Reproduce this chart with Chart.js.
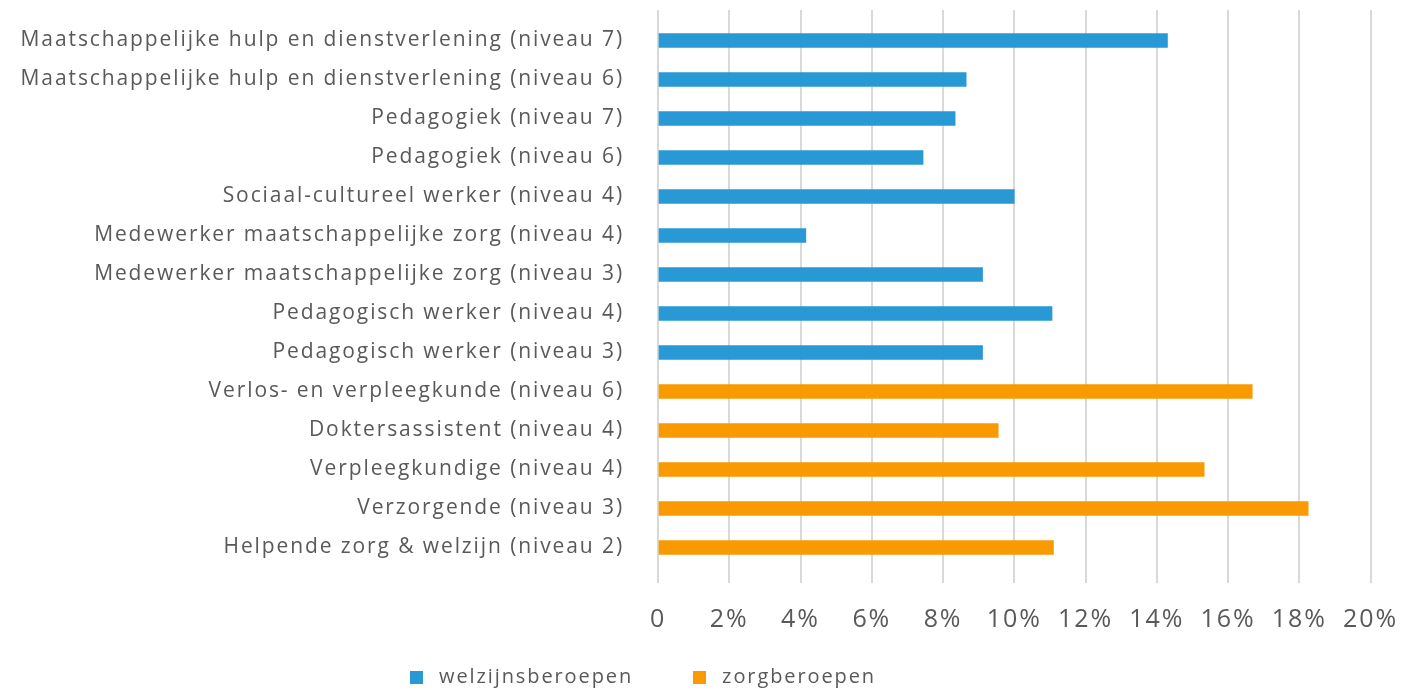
<!DOCTYPE html>
<html>
<head>
<meta charset="utf-8">
<script src="https://cdn.jsdelivr.net/npm/chart.js@4.4.1/dist/chart.umd.min.js"></script>
<style>
  html, body { margin: 0; padding: 0; background: #fff; }
  #wrap { width: 1420px; height: 690px; position: relative; }
</style>
</head>
<body>
<div id="wrap"><canvas id="chart"></canvas></div>
<script>
const categories = [
  'Maatschappelijke hulp en dienstverlening (niveau 7)',
  'Maatschappelijke hulp en dienstverlening (niveau 6)',
  'Pedagogiek (niveau 7)',
  'Pedagogiek (niveau 6)',
  'Sociaal-cultureel werker (niveau 4)',
  'Medewerker maatschappelijke zorg (niveau 4)',
  'Medewerker maatschappelijke zorg (niveau 3)',
  'Pedagogisch werker (niveau 4)',
  'Pedagogisch werker (niveau 3)',
  'Verlos- en verpleegkunde (niveau 6)',
  'Doktersassistent (niveau 4)',
  'Verpleegkundige (niveau 4)',
  'Verzorgende (niveau 3)',
  'Helpende zorg & welzijn (niveau 2)'
];

const welzijnValues = [14.3, 8.65, 8.34, 7.44, 10.0, 4.15, 9.11, 11.06, 9.11, null, null, null, null, null];
const zorgValues = [null, null, null, null, null, null, null, null, null, 16.68, 9.55, 15.33, 18.25, 11.1];

const seriesNames = ['welzijnsberoepen', 'zorgberoepen'];
const xTicks = [0, 2, 4, 6, 8, 10, 12, 14, 16, 18, 20];

const blue = '#2899d5';
const orange = '#f99a00';
const textColor = '#595959';
const gridColor = '#d9d9d9';
const fontFamily = '"Open Sans", Lato, sans-serif';

// small filled square used as legend marker (leaves a wider gap before the text)
function square(color) {
  const c = document.createElement('canvas');
  c.width = 13; c.height = 13;
  const g = c.getContext('2d');
  g.fillStyle = color;
  g.fillRect(0, 0, 13, 13);
  return c;
}

// the original font is much wider than anything installed, so space the letters out
const spacing = {
  id: 'spacing',
  beforeLayout(chart) { chart.ctx.letterSpacing = '1.9px'; },
  beforeDraw(chart) { chart.ctx.letterSpacing = '1.9px'; }
};

// grid lines poke out above the plot area in the original
const gridTopExtend = {
  id: 'gridTopExtend',
  beforeDatasetsDraw(chart) {
    const { ctx, chartArea, scales } = chart;
    ctx.save();
    ctx.strokeStyle = gridColor;
    ctx.lineWidth = 2;
    scales.x.ticks.forEach((t, i) => {
      const x = Math.round(scales.x.getPixelForTick(i));
      ctx.beginPath();
      ctx.moveTo(x, 10);
      ctx.lineTo(x, chartArea.top);
      ctx.stroke();
    });
    ctx.restore();
  }
};

// legend box is placed by hand: a bit left of centre, row at y ~676
const legendPlace = {
  id: 'legendPlace',
  afterLayout(chart) {
    const lg = chart.legend;
    lg.left = -46; lg.right = 1326;
    lg.top = 613; lg.bottom = 703;
    lg.width = lg.right - lg.left;
    lg.height = lg.bottom - lg.top;
  }
};

new Chart(document.getElementById('chart'), {
  type: 'bar',
  data: {
    labels: categories,
    datasets: [
      { label: seriesNames[0], data: welzijnValues, backgroundColor: blue, pointStyle: square(blue), grouped: false, barThickness: 14, skipNull: true },
      { label: seriesNames[1], data: zorgValues, backgroundColor: orange, pointStyle: square(orange), grouped: false, barThickness: 14, skipNull: true }
    ]
  },
  options: {
    indexAxis: 'y',
    responsive: true,
    maintainAspectRatio: false,
    animation: false,
    layout: { padding: { top: 21, right: 48, left: 0, bottom: -25 } },
    plugins: {
      tooltip: { enabled: false },
      legend: {
        position: 'bottom',
        maxHeight: 58,
        labels: {
          color: textColor,
          font: { family: fontFamily, size: 20 },
          usePointStyle: true,
          pointStyleWidth: 25,
          padding: 54
        }
      }
    },
    scales: {
      x: {
        min: 0,
        max: 20,
        afterBuildTicks: axis => { axis.ticks = xTicks.map(v => ({ value: v })); },
        grid: { color: gridColor, lineWidth: 2, drawTicks: true, tickLength: 16, tickColor: gridColor },
        border: { display: false },
        ticks: {
          color: textColor,
          font: { family: fontFamily, size: 25 },
          padding: 22,
          maxRotation: 0,
          autoSkip: false,
          callback: v => v === 0 ? '0' : v + '%'
        }
      },
      y: {
        afterFit: axis => {
          axis.width = 658;
          axis.paddingTop = 0;
          axis.paddingBottom = 0;
        },
        grid: { display: false, drawTicks: false },
        border: { display: false },
        ticks: {
          color: textColor,
          font: { family: fontFamily, size: 21 },
          padding: 34
        }
      }
    }
  },
  plugins: [spacing, gridTopExtend, legendPlace]
});
</script>
</body>
</html>
